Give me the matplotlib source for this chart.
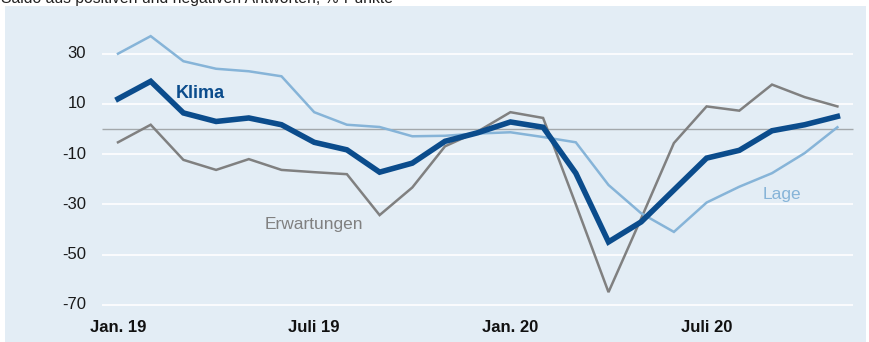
import matplotlib
matplotlib.use("Agg")
import matplotlib.pyplot as plt

plt.rcParams['font.family'] = ['Liberation Sans', 'DejaVu Sans']

# Months: Jan 19 .. Nov 20 (index 0..22)
months = list(range(23))
klima = [12, 19, 6.4, 3, 4.4, 1.7, -5.3, -8.3, -17.2, -13.6, -4.9, -1.5,
         2.8, 0.7, -17.6, -45, -37, -24.3, -11.6, -8.5, -0.7, 1.7, 5]
lage = [30, 37, 27, 24, 23, 21, 6.7, 1.7, 0.8, -2.9, -2.7, -1.8,
        -1.3, -3.2, -5.3, -22.3, -33.6, -41, -29.3, -23, -17.6, -9.6, 0.7]
erwartungen = [-5.3, 1.7, -12.3, -16.3, -12, -16.3, -17.2, -18, -34.3, -23.3, -6.9, -1,
               6.7, 4.4, -30, -65, -35.6, -5.6, 9, 7.3, 17.7, 12.7, 9]
yticks = [30, 10, -10, -30, -50, -70]
xtick_pos = [0, 6, 12, 18]
xtick_labels = ["Jan. 19", "Juli 19", "Jan. 20", "Juli 20"]
title = "Saldo aus positiven und negativen Antworten, %-Punkte"

W, H = 869, 342
fig = plt.figure(figsize=(W / 100, H / 100), dpi=100)
fig.patch.set_facecolor('white')

ax = fig.add_axes([5 / W, 0, 861 / W, (H - 6) / H])
ax.set_facecolor('#e3edf5')
px_per_month = 32.7
px_per_unit = 2.51
x0_px, y0_px = 118, 129
ax.set_xlim((5 - x0_px) / px_per_month, (866 - x0_px) / px_per_month)
ax.set_ylim((y0_px - H) / px_per_unit, (y0_px - 6) / px_per_unit)
for s in ax.spines.values():
    s.set_visible(False)
ax.set_xticks([])
ax.set_yticks([])

gx0 = (102 - x0_px) / px_per_month
gx1 = (853 - x0_px) / px_per_month
for v in yticks:
    ax.hlines(v, gx0, gx1, color='white', lw=1.2, zorder=1)
    ax.text((86 - x0_px) / px_per_month, v, str(v), ha='right', va='center',
            fontsize=12, color='#1a1a1a')
ax.hlines(0, gx0, gx1, color='#a3a8ab', lw=1.0, zorder=2)

ylab = (y0_px - 327) / px_per_unit
for p, l in zip(xtick_pos, xtick_labels):
    ax.text(p, ylab, l, ha='center', va='center', fontsize=12, fontweight='bold',
            color='#111111')

ax.plot(months, erwartungen, color='#808080', lw=1.8, zorder=3, solid_joinstyle='miter')
ax.plot(months, lage, color='#86b4d8', lw=1.8, zorder=3, solid_joinstyle='miter')
ax.plot(months, klima, color='#0b4c8c', lw=4.0, zorder=4, solid_joinstyle='miter')

ax.text((176 - x0_px) / px_per_month, (y0_px - 94) / px_per_unit, "Klima",
        fontsize=13, fontweight='bold', color='#0b4c8c', ha='left', va='center')
ax.text((265 - x0_px) / px_per_month, (y0_px - 224) / px_per_unit, "Erwartungen",
        fontsize=12.5, color='#808080', ha='left', va='center')
ax.text((763 - x0_px) / px_per_month, (y0_px - 194) / px_per_unit, "Lage",
        fontsize=12.5, color='#86b4d8', ha='left', va='center')

fig.text(1 / W, 1 - 3 / H, title, ha='left', va='baseline', fontsize=11.3, color='#222222')

fig.savefig('out.png', dpi=100, facecolor='white')
